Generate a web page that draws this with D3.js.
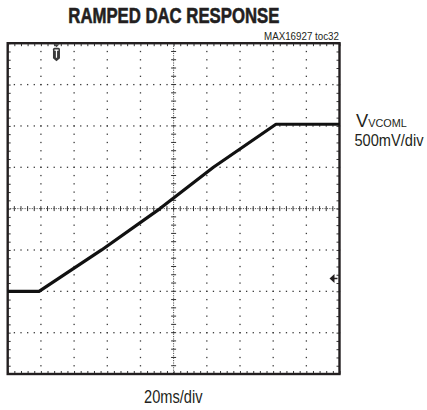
<!DOCTYPE html>
<html>
<head>
<meta charset="utf-8">
<script src="https://cdn.jsdelivr.net/npm/d3@7"></script>
<style>
  body { margin: 0; background: #fff; }
  svg { display: block; }
  text { font-family: "Liberation Sans", Arial, sans-serif; fill: #231f20; }
</style>
</head>
<body>
<svg id="mainSVG" width="427" height="410"></svg>
<script>
// scope trace (20ms/div, 500mV/div, centre = 0V)
var timeMs = [0, 18.9, 56.6, 91.8, 124, 161.7, 200];
var voltsV = [-1.0, -1.0, -0.5, 0.0, 0.5, 1.02, 1.02];

var timeDivs = [0, 20, 40, 60, 80, 100, 120, 140, 160, 180, 200];
var voltDivs = [-2, -1.5, -1, -0.5, 0, 0.5, 1, 1.5, 2];

var titleText = "RAMPED DAC RESPONSE";
var tocText = "MAX16927 toc32";
var xLabel = "20ms/div";
var chanName = "V";
var chanSub = "VCOML";
var yLabel = "500mV/div";
var trigTime = 29.4;
var refLevel = -0.845;

var f = { left: 7.7, right: 339.5, top: 43.2, bottom: 374 };

var svg = d3.select("#mainSVG");

var x = d3.scaleLinear().domain([0, 200]).range([f.left, f.right]);
var y = d3.scaleLinear().domain([-2, 2]).range([f.bottom, f.top]);

var grid = svg.append("g").attr("class", "grid");

// dotted gridlines: a dot every 1/5 division
var xMinor = d3.range(0, 200.01, 4);
var yMinor = d3.range(-2, 2.001, 0.1);

timeDivs.slice(1, -1).forEach(function(t) {
  if (t === 100) return;
  grid.selectAll(null).data(yMinor).enter().append("rect")
    .attr("x", x(t) - 0.6).attr("y", function(v) { return y(v) - 0.6; })
    .attr("width", 1.3).attr("height", 1.3).attr("fill", "#3a3a3a");
});
voltDivs.slice(1, -1).forEach(function(v) {
  if (v === 0) return;
  grid.selectAll(null).data(xMinor).enter().append("rect")
    .attr("x", function(t) { return x(t) - 0.6; }).attr("y", y(v) - 0.6)
    .attr("width", 1.3).attr("height", 1.3).attr("fill", "#3a3a3a");
});

// centre crosshair with cross ticks
grid.append("line")
  .attr("x1", x(100)).attr("x2", x(100)).attr("y1", f.top).attr("y2", f.bottom)
  .attr("stroke", "#555").attr("stroke-width", 1).attr("stroke-dasharray", "1.2,1.2");
grid.append("line")
  .attr("x1", f.left).attr("x2", f.right).attr("y1", y(0)).attr("y2", y(0))
  .attr("stroke", "#555").attr("stroke-width", 1).attr("stroke-dasharray", "1.2,1.2");
grid.selectAll(null).data(yMinor).enter().append("line")
  .attr("x1", x(100) - 2.5).attr("x2", x(100) + 2.5)
  .attr("y1", function(v) { return y(v); }).attr("y2", function(v) { return y(v); })
  .attr("stroke", "#333").attr("stroke-width", 1);
grid.selectAll(null).data(xMinor).enter().append("line")
  .attr("y1", y(0) - 2.5).attr("y2", y(0) + 2.5)
  .attr("x1", function(t) { return x(t); }).attr("x2", function(t) { return x(t); })
  .attr("stroke", "#333").attr("stroke-width", 1);

// small inward ticks on the frame
var xAxisTop = d3.axisBottom(x).tickValues(xMinor).tickSize(3).tickFormat("");
var xAxisBot = d3.axisTop(x).tickValues(xMinor).tickSize(3).tickFormat("");
var yAxisL = d3.axisRight(y).tickValues(yMinor).tickSize(3).tickFormat("");
var yAxisR = d3.axisLeft(y).tickValues(yMinor).tickSize(3).tickFormat("");
[[xAxisTop, "translate(0," + f.top + ")"], [xAxisBot, "translate(0," + f.bottom + ")"],
 [yAxisL, "translate(" + f.left + ",0)"], [yAxisR, "translate(" + f.right + ",0)"]].forEach(function(a) {
  var g = svg.append("g").attr("transform", a[1]).call(a[0]);
  g.select(".domain").remove();
  g.selectAll(".tick line").attr("stroke", "#333").attr("stroke-width", 1);
});

// frame
svg.append("rect")
  .attr("x", f.left).attr("y", f.top)
  .attr("width", f.right - f.left).attr("height", f.bottom - f.top)
  .attr("fill", "none").attr("stroke", "#231f20").attr("stroke-width", 2.4);

// trace
var line = d3.line()
  .x(function(d) { return x(d[0]); })
  .y(function(d) { return y(d[1]); });
svg.append("path")
  .datum(d3.zip(timeMs, voltsV))
  .attr("d", line)
  .attr("fill", "none").attr("stroke", "#111").attr("stroke-width", 3.2)
  .attr("stroke-linejoin", "round");

// trigger marker
var tx = x(trigTime);
svg.append("path")
  .attr("d", "M" + (tx - 3) + "," + (f.top + 1) + "L" + (tx + 3) + "," + (f.top + 1) + "L" + tx + "," + (f.top + 4) + "Z")
  .attr("fill", "#444");
svg.append("path")
  .attr("d", "M" + (tx - 3.5) + "," + (f.top + 6) +
    "Q" + (tx - 3.5) + "," + (f.top + 4.5) + " " + (tx - 2) + "," + (f.top + 4.5) +
    "L" + (tx + 2) + "," + (f.top + 4.5) +
    "Q" + (tx + 3.5) + "," + (f.top + 4.5) + " " + (tx + 3.5) + "," + (f.top + 6) +
    "L" + (tx + 3.5) + "," + (f.top + 15) + "L" + tx + "," + (f.top + 18) + "L" + (tx - 3.5) + "," + (f.top + 15) + "Z")
  .attr("fill", "#3a3a3a");
svg.append("path")
  .attr("d", "M" + (tx - 2) + "," + (f.top + 7) + "L" + (tx + 2) + "," + (f.top + 7) +
    "M" + tx + "," + (f.top + 7) + "L" + tx + "," + (f.top + 14.5))
  .attr("stroke", "#fff").attr("stroke-width", 1.2).attr("fill", "none");

// reference level arrow at right edge
var ry = y(refLevel);
svg.append("path")
  .attr("d", "M" + (f.right - 10) + "," + ry + "L" + (f.right - 5) + "," + (ry - 4.5) + "L" + (f.right - 5) + "," + (ry + 4.5) + "Z")
  .attr("fill", "#231f20");
svg.append("line")
  .attr("x1", f.right - 6).attr("x2", f.right - 2).attr("y1", ry).attr("y2", ry)
  .attr("stroke", "#231f20").attr("stroke-width", 1.5);

// texts (squeezed to the condensed face of the original)
svg.append("text")
  .attr("x", 68.3).attr("y", 23.3)
  .attr("textLength", 211).attr("lengthAdjust", "spacingAndGlyphs")
  .style("font-size", "22px").style("font-weight", "bold")
  .style("stroke", "#231f20").style("stroke-width", 0.6)
  .text(titleText);

svg.append("text")
  .attr("x", 264).attr("y", 40)
  .attr("textLength", 75).attr("lengthAdjust", "spacingAndGlyphs")
  .style("font-size", "11.5px")
  .text(tocText);

svg.append("text")
  .attr("x", 144).attr("y", 403)
  .attr("textLength", 58.5).attr("lengthAdjust", "spacingAndGlyphs")
  .style("font-size", "19px")
  .text(xLabel);

var chan = svg.append("text")
  .attr("x", 356).attr("y", 126.7)
  .attr("textLength", 50.7).attr("lengthAdjust", "spacingAndGlyphs")
  .style("font-size", "18.5px");
chan.append("tspan").text(chanName);
chan.append("tspan").style("font-size", "11px").text(chanSub);

svg.append("text")
  .attr("x", 354.5).attr("y", 146)
  .attr("textLength", 69).attr("lengthAdjust", "spacingAndGlyphs")
  .style("font-size", "17px")
  .text(yLabel);
</script>
</body>
</html>
